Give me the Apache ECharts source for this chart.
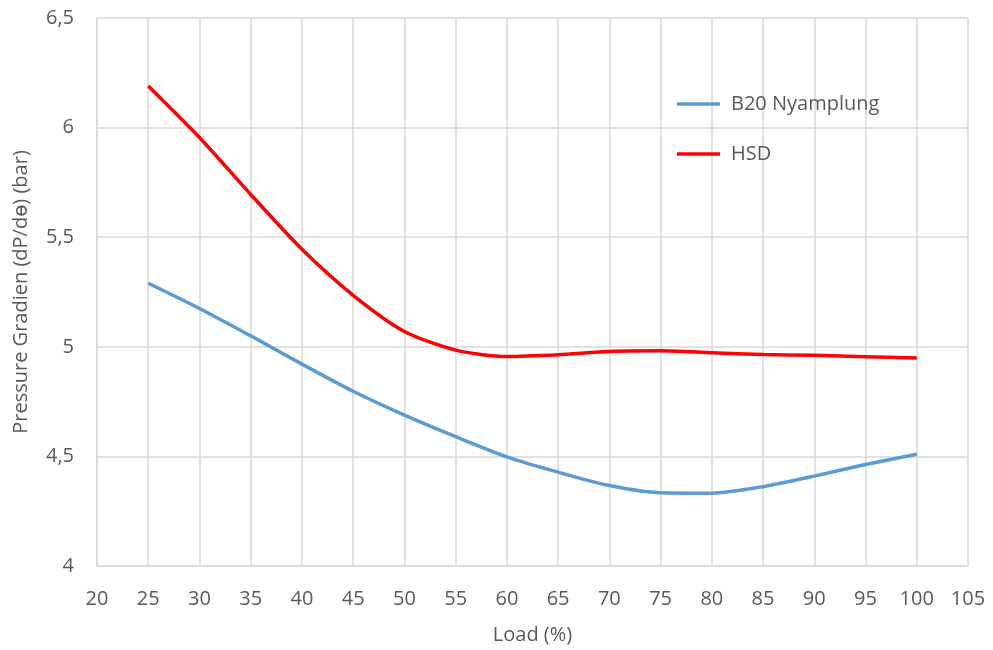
<!DOCTYPE html>
<html>
<head>
<meta charset="utf-8">
<script src="https://cdn.jsdelivr.net/npm/echarts@6/dist/echarts.min.js"></script>
<style>html,body{margin:0;padding:0;background:#fff;}#chart{width:993px;height:650px;}</style>
</head>
<body>
<div id="chart"></div>
<script>
const loads = [25, 30, 35, 40, 45, 50, 55, 60, 65, 70, 75, 80, 85, 90, 95, 100];
const b20Nyamplung = [5.29, 5.175, 5.05, 4.921, 4.797, 4.688, 4.59, 4.498, 4.428, 4.367, 4.334, 4.332, 4.362, 4.41, 4.463, 4.51];
const hsd = [6.19, 5.955, 5.695, 5.445, 5.235, 5.07, 4.985, 4.956, 4.964, 4.979, 4.982, 4.973, 4.965, 4.961, 4.955, 4.949];
const seriesNames = ['B20 Nyamplung', 'HSD'];
const xTitle = 'Load (%)';
const yTitle = 'Pressure Gradien (dP/dɵ) (bar)';

const FONT = '"Open Sans", "DejaVu Sans", sans-serif';
const TXT = '#595959';
const GRID = '#d9d9d9';

const chart = echarts.init(document.getElementById('chart'));
chart.setOption({
  animation: false,
  backgroundColor: '#fff',
  textStyle: { fontFamily: FONT },
  grid: { left: 97, right: 25, top: 18, bottom: 82, containLabel: false },
  legend: {
    orient: 'vertical',
    left: 672,
    top: 89,
    icon: 'rect',
    itemWidth: 43,
    itemHeight: 3.5,
    itemGap: 30,
    textStyle: { fontFamily: FONT, fontSize: 20, color: TXT, padding: [0, 0, 0, 6] },
    data: seriesNames
  },
  xAxis: {
    type: 'value',
    min: 20, max: 105, interval: 5,
    name: xTitle, nameLocation: 'middle', nameGap: 59,
    nameTextStyle: { fontFamily: FONT, fontSize: 20, color: TXT },
    axisLine: { show: true, lineStyle: { color: GRID, width: 1.5 } },
    axisTick: { show: false },
    axisLabel: { fontFamily: FONT, fontSize: 20, color: TXT, margin: 23 },
    splitLine: { show: true, lineStyle: { color: GRID, width: 1.5 } }
  },
  yAxis: {
    type: 'value',
    min: 4, max: 6.5, interval: 0.5,
    name: yTitle, nameLocation: 'middle', nameGap: 66, nameRotate: 90,
    nameTextStyle: { fontFamily: FONT, fontSize: 20, color: TXT },
    axisLine: { show: true, lineStyle: { color: GRID, width: 1.5 } },
    axisTick: { show: false },
    axisLabel: { fontFamily: FONT, fontSize: 20, color: TXT, margin: 23,
      formatter: v => String(v).replace('.', ',') },
    splitLine: { show: true, lineStyle: { color: GRID, width: 1.5 } }
  },
  series: [
    {
      name: seriesNames[0], type: 'line', smooth: 0.25,
      data: loads.map((x, i) => [x, b20Nyamplung[i]]),
      showSymbol: false, symbol: 'none',
      lineStyle: { color: '#5b9bd5', width: 3.5 },
      itemStyle: { color: '#5b9bd5' }
    },
    {
      name: seriesNames[1], type: 'line', smooth: 0.25,
      data: loads.map((x, i) => [x, hsd[i]]),
      showSymbol: false, symbol: 'none',
      lineStyle: { color: '#ff0000', width: 3.5 },
      itemStyle: { color: '#ff0000' }
    }
  ]
});
</script>
</body>
</html>
